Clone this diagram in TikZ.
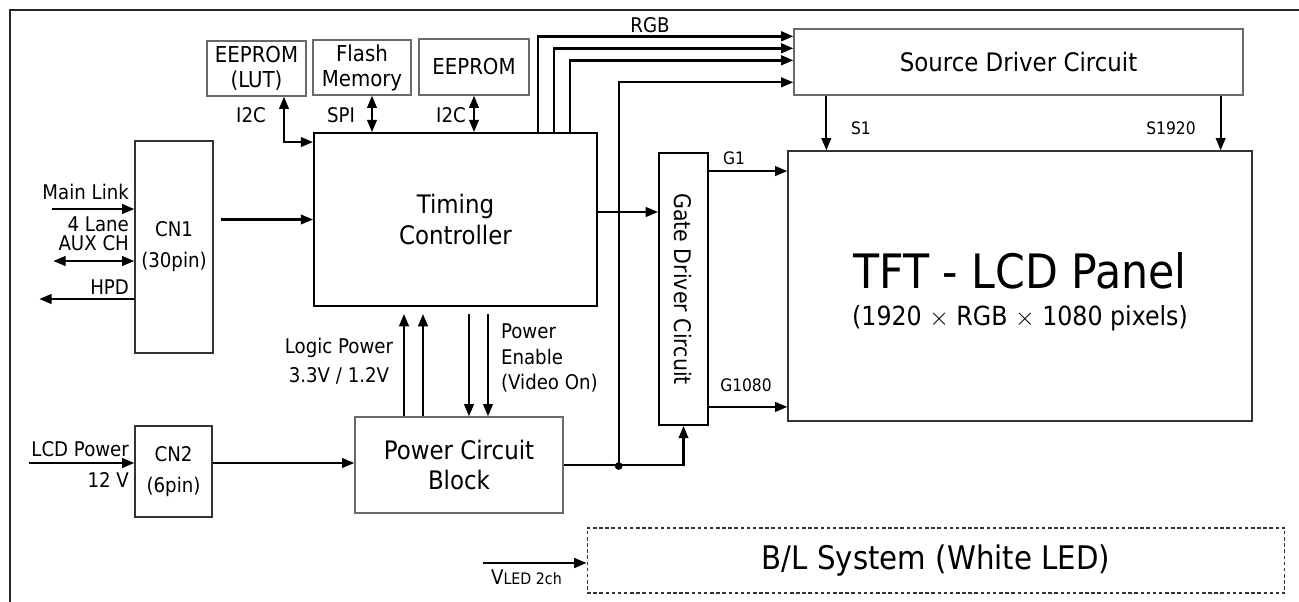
\documentclass[tikz,border=0pt]{standalone}
\usepackage{fontspec}
\setmainfont{DejaVu Sans Condensed}
\usetikzlibrary{arrows.meta, positioning, calc}
\definecolor{boxgray}{RGB}{105,105,105}
\newcommand{\flbl}{\fontsize{11.5}{14}\selectfont}
\newcommand{\fsml}{\fontsize{9.8}{12}\selectfont}
\newcommand{\fmem}{\fontsize{12.5}{14.2}\selectfont}
\newcommand{\fcn}{\fontsize{11.5}{17.6}\selectfont}
\newcommand{\fmid}{\fontsize{14.5}{17.6}\selectfont}
\newcommand{\fgate}{\fontsize{13}{15}\selectfont}
\newcommand{\fbig}{\fontsize{27}{30}\selectfont}
\newcommand{\fpix}{\fontsize{15}{18}\selectfont}
\newcommand{\fbl}{\fontsize{18.5}{22}\selectfont}
\tikzset{
  blk/.style={draw=black, line width=1.1pt, inner sep=0pt, align=center},
  thin/.style={draw=boxgray, line width=0.8pt, inner sep=0pt, align=center},
  arr/.style={-{Triangle[length=7pt,width=5.5pt]}, line width=1.2pt},
  darr/.style={{Triangle[length=7pt,width=5.5pt]}-{Triangle[length=7pt,width=5.5pt]}, line width=1.2pt},
  rgbline/.style={-{Triangle[length=7pt,width=5.5pt]}, line width=1.5pt},
  lbl/.style={font=\flbl, inner sep=1pt},
  sml/.style={font=\fsml, inner sep=1pt},
}
\begin{document}
\begin{tikzpicture}[x=0.02cm, y=-0.02cm]
  \useasboundingbox (0,0) rectangle (1299,602);
  % ---- outer frame ----
  \draw[line width=0.9pt, black!85] (10,602) |- (1299,10);

  % ---- memories ----
  \node[thin, minimum width=1.98cm, minimum height=1.10cm, font=\fmem] (lut) at (256.5,68.5) {EEPROM\\(LUT)};
  \node[thin, minimum width=1.96cm, minimum height=1.10cm, font=\fmem] (flash) at (362,67.5) {Flash\\Memory};
  \node[thin, minimum width=2.20cm, minimum height=1.12cm, font=\fmem] (eeprom) at (474,67) {EEPROM};

  % ---- main blocks ----
  \node[blk, minimum width=5.66cm, minimum height=3.46cm, font=\fmid] (tcon) at (455.5,219.5) {Timing\\Controller};
  \node[thin, minimum width=8.98cm, minimum height=1.32cm, font=\fmid] (src) at (1018.5,62) {Source Driver Circuit};
  \node[thin, draw=black!80, minimum width=9.28cm, minimum height=5.40cm] (panel) at (1020,286) {};
  \node[font=\fbig] (tft) at (1020,271) {TFT - LCD Panel};
  \node[font=\fpix] (pix) at (1020,318) {(1920 $\times$ RGB $\times$ 1080 pixels)};
  \node[blk, minimum width=0.98cm, minimum height=5.44cm] (gate) at (683.5,289) {};
  \node[rotate=-90, font=\fgate] (gatetxt) at (gate.center) {Gate Driver Circuit};
  \node[thin, draw=black!80, minimum width=1.56cm, minimum height=4.24cm, font=\fcn] (cn1) at (174,247) {CN1\\(30pin)};
  \node[thin, draw=black!80, minimum width=1.54cm, minimum height=1.82cm, font=\fcn] (cn2) at (173.5,471.5) {CN2\\(6pin)};
  \node[thin, minimum width=4.16cm, minimum height=1.92cm, font=\fmid] (pwr) at (459,465) {Power Circuit\\Block};
  \node[thin, draw=black!80, dashed, dash pattern=on 2pt off 1.5pt, line width=0.6pt, minimum width=13.96cm, minimum height=1.30cm, font=\fbl] (bl) at (936,560.5) {B/L System (White LED)};

  % ---- memory buses ----
  \draw[darr] ($(lut.south)+(27.5,0)$) |- ($(tcon.north west)+(0,10)$);
  \draw[darr] ($(flash.south)+(10,0)$) coordinate (spi) -- (spi |- tcon.north);
  \draw[darr] (eeprom.south) -- (eeprom.south |- tcon.north);
  \node[lbl] (i2ca) at (251,115) {I2C};
  \node[lbl] (spilbl) at (341,115) {SPI};
  \node[lbl] (i2cb) at (451,115) {I2C};

  % ---- RGB to source driver ----
  \foreach \dx/\dy in {82.5/8, 98.5/20, 114.5/32}
    \draw[rgbline] ($(tcon.north)+(\dx,0)$) |- ($(src.north west)+(0,\dy)$);
  \node[lbl] (rgb) at (650,25) {RGB};

  % ---- source / gate outputs ----
  \draw[arr] ($(src.south west)+(33,0)$) coordinate (s1) -- (s1 |- panel.north);
  \draw[arr] ($(src.south east)+(-23,0)$) coordinate (sn) -- (sn |- panel.north);
  \node[sml] (s1lbl) at (861,128) {S1};
  \node[sml] (snlbl) at (1171,128) {S1920};
  \draw[arr] ($(tcon.east)+(0,-7.5)$) coordinate (tg) -- (tg -| gate.west);
  \draw[arr] ($(gate.north east)+(0,19)$) coordinate (g1) -- (g1 -| panel.west);
  \draw[arr] ($(gate.south east)+(0,-19)$) coordinate (gn) -- (gn -| panel.west);
  \node[sml] (g1lbl) at (734,158) {G1};
  \node[sml] (gnlbl) at (746,385) {G1080};

  % ---- connector inputs ----
  \draw[arr] ($(cn1.west)+(-82,-38)$) coordinate (ml) -- (ml -| cn1.west);
  \draw[darr] ($(cn1.west)+(-81,14)$) coordinate (aux) -- (aux -| cn1.west);
  \draw[arr] ($(cn1.west)+(0,52)$) coordinate (hpd) -- ++(-95,0);
  \node[lbl, anchor=east] (mainlink) at (131,192) {Main Link};
  \node[lbl, anchor=east] (lane) at (131,224) {4 Lane};
  \node[lbl, anchor=east] (auxch) at (131,243) {AUX CH};
  \node[lbl, anchor=east] (hpdlbl) at (131,287) {HPD};
  \draw[arr, shorten <=4pt] (tcon.west -| cn1.east) -- (tcon.west);

  \draw[arr] ($(cn2.west)+(-105,-8.5)$) coordinate (lcdp) -- (lcdp -| cn2.west);
  \node[lbl, anchor=east] (lcdlbl) at (131,449) {LCD Power};
  \node[lbl, anchor=east] (vlbl) at (131,480) {12 V};
  \draw[arr] ($(cn2.east)+(0,-8.5)$) coordinate (c2) -- (c2 -| pwr.west);

  % ---- power block ----
  \foreach \dx in {-55,-36}
    \draw[arr, shorten >=4pt] ($(pwr.north)+(\dx,0)$) coordinate (lp) -- (lp |- tcon.south);
  \foreach \dx in {10,29}
    \draw[arr, shorten <=4pt] ($(tcon.south)+(\dx-455.5+459,0)$) coordinate (pe) -- (pe |- pwr.north);
  \node[lbl, align=center, font=\fontsize{11.5}{16.5}\selectfont] (logic) at (339,361) {Logic Power\\3.3V / 1.2V};
  \node[lbl, align=left, anchor=west, font=\fontsize{11.5}{14.5}\selectfont] (pen) at (499,358) {Power\\Enable\\(Video On)};

  \draw[arr] (pwr.east) -| (gate.south);
  \draw[arr] ($(pwr.east)+(55,1)$) coordinate (jn) |- ($(src.north west)+(0,54)$);
  \fill (jn) circle[radius=2.2pt];

  % ---- backlight ----
  \draw[arr] ($(bl.west)+(-104,2.5)$) coordinate (vl) -- (vl -| bl.west);
  \node[lbl, anchor=north west] (vled) at (489,568) {V{\fontsize{9}{10}\selectfont LED 2ch}};
\end{tikzpicture}
\end{document}
